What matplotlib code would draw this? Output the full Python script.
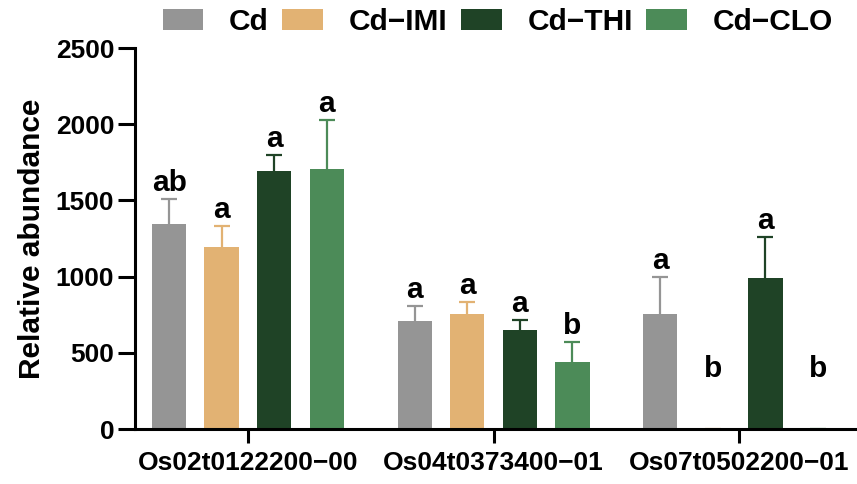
import numpy as np
import matplotlib.pyplot as plt

plt.rcParams['font.family'] = ['Liberation Sans', 'DejaVu Sans']
plt.rcParams['font.weight'] = 'bold'

genes = ['Os02t0122200\u221200', 'Os04t0373400\u221201', 'Os07t0502200\u221201']
treatments = ['Cd', 'Cd\u2212IMI', 'Cd\u2212THI', 'Cd\u2212CLO']
colors = ['#959595', '#E2B273', '#1F4326', '#4C8B58']

cd = [1345, 711, 755]
cd_imi = [1194, 757, 0]
cd_thi = [1695, 647, 993]
cd_clo = [1704, 442, 0]

cd_err = [164, 94, 245]
cd_imi_err = [140, 74, 0]
cd_thi_err = [101, 70, 267]
cd_clo_err = [324, 131, 0]

letters = [['ab', 'a', 'a'],
           ['a', 'a', 'b'],
           ['a', 'a', 'a'],
           ['a', 'b', 'b']]

means = [cd, cd_imi, cd_thi, cd_clo]
errs = [cd_err, cd_imi_err, cd_thi_err, cd_clo_err]

fig = plt.figure(figsize=(8.57, 4.84), dpi=100)
ax = fig.add_axes([0.1575, 0.1136, 0.8425, 0.7872])

x = np.arange(len(genes))
width = 0.14
step = 0.214
for i in range(4):
    xs = x + (i - 1.5) * step
    m = np.array(means[i])
    e = np.array(errs[i])
    ax.bar(xs, m, width, color=colors[i], label=treatments[i], zorder=2)
    eb = ax.errorbar(xs, m, yerr=[np.zeros_like(e), e], fmt='none',
                     ecolor=colors[i], elinewidth=1.6, capsize=5.8,
                     capthick=1.6, zorder=1)
    # only the upper cap is wanted
    eb[1][0].set_visible(False)
    for xi, mi, ei, lab in zip(xs, m, e, letters[i]):
        if mi > 0:
            ax.annotate(lab, (xi, mi + ei), xytext=(0, 1.5),
                        textcoords='offset points', ha='center',
                        va='bottom', fontsize=21.5, fontweight='bold')
        else:
            ax.text(xi, 300, lab, ha='center', va='bottom',
                    fontsize=21.5, fontweight='bold')

ax.set_xlim(-0.46, 2.48)
ax.set_ylim(0, 2500)
ax.set_yticks([0, 500, 1000, 1500, 2000, 2500])
ax.set_xticks(x)
ax.set_xticklabels(genes)
ax.set_ylabel('Relative abundance', fontsize=21.5, fontweight='bold', labelpad=7)

for s in ['top', 'right']:
    ax.spines[s].set_visible(False)
for s in ['left', 'bottom']:
    ax.spines[s].set_linewidth(2.2)
ax.tick_params(axis='y', length=12, width=2.2, labelsize=19, pad=3)
ax.tick_params(axis='x', length=10, width=2.2, labelsize=19, pad=6)

fig.legend(loc='center', bbox_to_anchor=(0.581, 0.955), ncol=4,
           frameon=False, fontsize=21.5, handlelength=1.37,
           handleheight=0.69, handletextpad=0.86, columnspacing=0.45)

fig.savefig('out.png', dpi=100)
